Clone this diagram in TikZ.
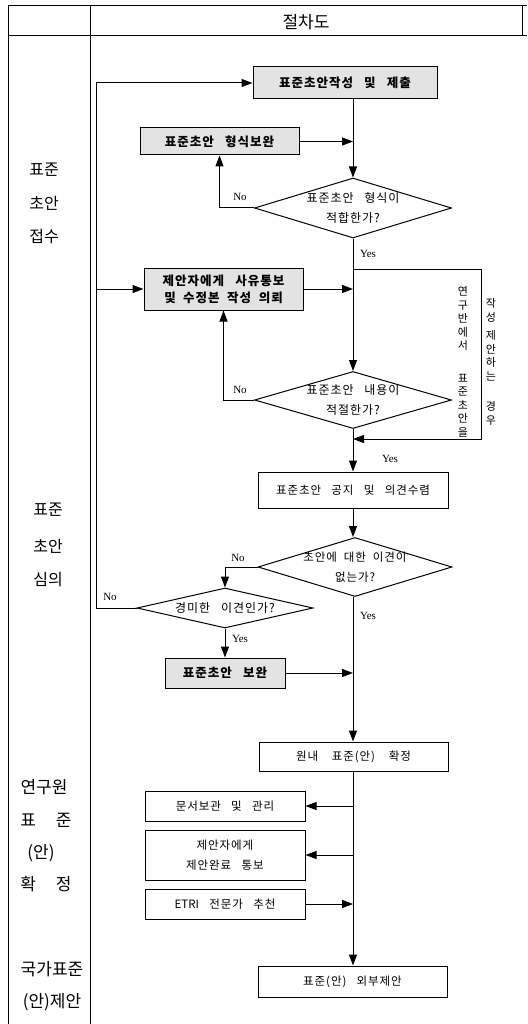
\documentclass[tikz,border=0pt]{standalone}
\usepackage{fontspec}
\newfontfamily\kr{Noto Sans CJK KR}
\newfontfamily\krs{Noto Sans CJK KR}[LetterSpace=8]
\newfontfamily\lat{Liberation Serif}
\usetikzlibrary{shapes.geometric,arrows.meta}
\newcommand\wsp{\hspace{0.9em}}
\begin{document}
\begin{tikzpicture}[x=1pt,y=-1pt,line width=1pt,
  arr/.style={-{Triangle[length=11pt,width=8pt]}},
  gbox/.style={draw,fill=gray!22,font=\krs\bfseries\fontsize{12.5}{17}\selectfont,inner sep=0pt,align=center},
  wbox/.style={draw,fill=white,font=\krs\fontsize{11.5}{20}\selectfont,inner sep=0pt,align=center},
  dia/.style={draw,diamond,inner sep=0pt},
  dtext/.style={font=\krs\fontsize{12}{20}\selectfont,align=center,inner sep=0pt},
  lane/.style={font=\kr\fontsize{16}{18}\selectfont,inner sep=0pt},
  yn/.style={font=\lat\fontsize{11}{12}\selectfont,inner sep=0pt},
  vert/.style={font=\kr\fontsize{11}{13.5}\selectfont,align=center,inner sep=0pt}]
\useasboundingbox (0,0) rectangle (527,1024);
% frame
\draw (8,1024) -- (8,6) -- (527,6);
\draw (522,6) -- (522,36);
\draw (8,36) -- (527,36);
\draw (90,6) -- (90,1024);
\node[font=\kr\fontsize{17}{18}\selectfont] (hdr) at (306,22) {절차도};
% lane labels
\node[lane] (l1a) at (44,170) {표준};
\node[lane] (l1b) at (44,203) {초안};
\node[lane] (l1c) at (44,237) {접수};
\node[lane] (l2a) at (48,510) {표준};
\node[lane] (l2b) at (48,546) {초안};
\node[lane] (l2c) at (48,580) {심의};
\node[lane,font=\kr\fontsize{17}{18}\selectfont] (l3a) at (44,787) {연구원};
\node[lane,font=\kr\fontsize{17}{18}\selectfont] (l3b) at (46,820) {표\hspace{20pt}준};
\node[lane,font=\kr\fontsize{17}{18}\selectfont] (l3c) at (41,853) {(안)};
\node[lane,font=\kr\fontsize{17}{18}\selectfont] (l3d) at (46,884) {확\hspace{20pt}정};
\node[lane,font=\kr\fontsize{17}{18}\selectfont] (l4a) at (52,969) {국가표준};
\node[lane,font=\kr\fontsize{17}{18}\selectfont] (l4b) at (52,1002) {(안)제안};
% helper coordinates
\coordinate (M) at (353,0);
\coordinate (L) at (96,0);
\coordinate (BT) at (481,269);
\coordinate (BB) at (481,439);
% nodes
\node[gbox,minimum width=184pt,minimum height=32pt] (b1) at (345,83) {표준초안작성\wsp 및\wsp 제출};
\node[gbox,minimum width=159pt,minimum height=27pt] (b2) at (219.5,141.5) {표준초안\wsp 형식보완};
\node[dia,minimum width=197pt,minimum height=60pt] (d1) at (353,208) {};
\node[dtext] (t1) at (d1.center) {표준초안\wsp 형식이\\적합한가?};
\node[gbox,minimum width=159pt,minimum height=42pt] (b3) at (223.5,289) {제안자에게\wsp 사유통보\\및\hspace{0.6em}수정본\hspace{0.6em}작성\hspace{0.6em}의뢰};
\node[dia,minimum width=197pt,minimum height=57pt] (d2) at (353,400) {};
\node[dtext] (t2) at (d2.center) {표준초안\wsp 내용이\\적절한가?};
\node[wbox,minimum width=190pt,minimum height=36pt] (b4) at (353,490) {표준초안\wsp 공지\wsp 및\wsp 의견수렴};
\node[dia,minimum width=194pt,minimum height=59pt] (d3) at (355,567) {};
\node[dtext,font=\krs\fontsize{11.5}{20}\selectfont] (t3) at (d3.center) {초안에\hspace{0.6em}대한\hspace{0.6em}이견이\\없는가?};
\node[dia,minimum width=176pt,minimum height=40pt] (d4) at (225,608) {};
\node[dtext] (t4) at (d4.center) {경미한\wsp 이견인가?};
\node[gbox,minimum width=120pt,minimum height=30pt] (b5) at (225,673) {표준초안\wsp 보완};
\node[wbox,minimum width=189pt,minimum height=29pt] (b6) at (353.5,756.5) {원내\hspace{1.2em}표준(안)\hspace{1.2em}확정};
\node[wbox,minimum width=160pt,minimum height=30pt] (b7) at (225,806) {문서보관\wsp 및\wsp 관리};
\node[wbox,minimum width=160pt,minimum height=50pt] (b8) at (225,855) {제안자에게\\제안완료\wsp 통보};
\node[wbox,minimum width=160pt,minimum height=30pt] (b9) at (225,904) {{\kr ETRI}\wsp 전문가\wsp 추천};
\node[wbox,minimum width=189pt,minimum height=31pt] (b10) at (352.5,981.5) {표준(안)\wsp 외부제안};
% vertical side text
\node[vert] (v1) at (463,362) {연\\구\\반\\에\\서\\[19pt]표\\준\\초\\안\\을};
\node[vert] (v2) at (491,362) {작\\성\\[5pt]제\\안\\하\\는\\[17pt]경\\우};
% connectors
\draw[arr] (d4.west) -- (d4.west -| L) |- (b1.west);
\draw[arr] (b3.west -| L) -- (b3.west);
\draw[arr] (b1.south -| M) -- (d1.north);
\draw[arr] (b2.east) -- (b2.east -| M);
\draw[arr] (d1.west) -| (b2.south);
\draw[arr] (d1.south) -- (d2.north);
\draw[arr] (b3.east) -- (b3.east -| M);
\draw[arr] (BT -| M) -- (BT) -- (BB) -- (BB -| M);
\draw[arr] (d2.west) -| (b3.south);
\draw[arr] (d2.south) -- (b4.north);
\draw[arr] (b4.south) -- (b4.south |- d3.north);
\draw[arr] (d3.west) -| (d4.north);
\draw[arr] (d3.south -| M) -- (b6.north -| M);
\draw[arr] (d4.south) -- (b5.north);
\draw[arr] (b5.east) -- (b5.east -| M);
\draw[arr] (b6.south -| M) -- (b10.north -| M);
\draw[arr] (b7.east -| M) -- (b7.east);
\draw[arr] (b8.east -| M) -- (b8.east);
\draw[arr] (b9.east) -- (b9.east -| M);
% yes/no labels
\node[yn] (n1) at (240,197) {No};
\node[yn] (n2) at (240,390) {No};
\node[yn] (n3) at (238,558) {No};
\node[yn] (n4) at (110,597) {No};
\node[yn] (y1) at (368,254) {Yes};
\node[yn] (y2) at (390,459) {Yes};
\node[yn] (y3) at (368,616) {Yes};
\node[yn] (y4) at (240,639) {Yes};
\end{tikzpicture}
\end{document}
